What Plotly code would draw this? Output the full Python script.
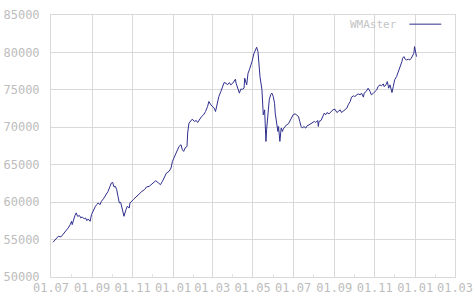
import plotly.graph_objects as go

series_name = "WMAster"

dates = [
    "2006-07-04", "2006-07-09", "2006-07-12", "2006-07-16", "2006-07-19", "2006-07-22", "2006-07-25", "2006-07-27",
    "2006-07-30", "2006-08-01", "2006-08-02", "2006-08-04", "2006-08-06", "2006-08-08", "2006-08-10", "2006-08-13",
    "2006-08-15", "2006-08-17", "2006-08-20", "2006-08-22", "2006-08-24", "2006-08-26", "2006-08-29", "2006-08-31",
    "2006-09-03", "2006-09-06", "2006-09-08", "2006-09-10", "2006-09-13", "2006-09-15", "2006-09-18", "2006-09-20",
    "2006-09-23", "2006-09-25", "2006-09-28", "2006-09-30", "2006-10-02", "2006-10-04", "2006-10-06", "2006-10-08",
    "2006-10-10", "2006-10-12", "2006-10-14", "2006-10-17", "2006-10-19", "2006-10-22", "2006-10-24", "2006-10-27",
    "2006-10-28", "2006-11-02", "2006-11-07", "2006-11-10", "2006-11-12", "2006-11-15", "2006-11-19", "2006-11-22",
    "2006-11-26", "2006-11-30", "2006-12-04", "2006-12-06", "2006-12-10", "2006-12-13", "2006-12-16", "2006-12-19",
    "2006-12-22", "2006-12-26", "2006-12-29", "2006-12-31", "2007-01-03", "2007-01-05", "2007-01-08", "2007-01-10",
    "2007-01-13", "2007-01-15", "2007-01-17", "2007-01-19", "2007-01-22", "2007-01-23", "2007-01-25", "2007-01-28",
    "2007-01-30", "2007-02-02", "2007-02-05", "2007-02-07", "2007-02-10", "2007-02-13", "2007-02-16", "2007-02-19",
    "2007-02-22", "2007-02-24", "2007-02-27", "2007-03-01", "2007-03-04", "2007-03-06", "2007-03-09", "2007-03-11",
    "2007-03-14", "2007-03-17", "2007-03-19", "2007-03-22", "2007-03-24", "2007-03-27", "2007-03-29", "2007-04-01",
    "2007-04-03", "2007-04-05", "2007-04-06", "2007-04-09", "2007-04-11", "2007-04-13", "2007-04-16", "2007-04-18",
    "2007-04-19", "2007-04-22", "2007-04-24", "2007-04-26", "2007-04-28", "2007-04-30", "2007-05-03", "2007-05-06",
    "2007-05-07", "2007-05-09", "2007-05-10", "2007-05-12", "2007-05-15", "2007-05-16", "2007-05-17", "2007-05-19",
    "2007-05-20", "2007-05-21", "2007-05-22", "2007-05-24", "2007-05-26", "2007-05-28", "2007-05-30", "2007-06-01",
    "2007-06-03", "2007-06-04", "2007-06-06", "2007-06-08", "2007-06-09", "2007-06-11", "2007-06-13", "2007-06-15",
    "2007-06-16", "2007-06-19", "2007-06-21", "2007-06-24", "2007-06-26", "2007-06-29", "2007-07-01", "2007-07-04",
    "2007-07-06", "2007-07-09", "2007-07-11", "2007-07-13", "2007-07-15", "2007-07-17", "2007-07-20", "2007-07-22",
    "2007-07-25", "2007-07-27", "2007-07-30", "2007-08-02", "2007-08-04", "2007-08-07", "2007-08-08", "2007-08-09",
    "2007-08-12", "2007-08-15", "2007-08-17", "2007-08-19", "2007-08-21", "2007-08-24", "2007-08-27", "2007-08-30",
    "2007-09-02", "2007-09-05", "2007-09-07", "2007-09-10", "2007-09-12", "2007-09-15", "2007-09-17", "2007-09-20",
    "2007-09-22", "2007-09-25", "2007-09-27", "2007-09-30", "2007-10-02", "2007-10-05", "2007-10-07", "2007-10-10",
    "2007-10-12", "2007-10-15", "2007-10-16", "2007-10-19", "2007-10-21", "2007-10-22", "2007-10-25", "2007-10-27",
    "2007-10-30", "2007-11-01", "2007-11-04", "2007-11-06", "2007-11-09", "2007-11-11", "2007-11-14", "2007-11-15",
    "2007-11-18", "2007-11-20", "2007-11-22", "2007-11-24", "2007-11-26", "2007-11-27", "2007-11-29", "2007-12-01",
    "2007-12-04", "2007-12-07", "2007-12-09", "2007-12-12", "2007-12-13", "2007-12-15", "2007-12-17", "2007-12-19",
    "2007-12-22", "2007-12-24", "2007-12-26", "2007-12-28", "2007-12-30", "2007-12-31", "2008-01-01", "2008-01-02",
    "2008-01-03",
]

values = [
    54640, 55220, 55440, 55360, 55670, 55970, 56200, 56560,
    57000, 57440, 57000, 57670, 58200, 58560, 58110, 58200,
    57890, 58030, 57760, 57890, 57530, 57760, 57440, 58330,
    59000, 59440, 59670, 59890, 59670, 60110, 60440, 60700,
    61000, 61440, 62110, 62560, 62640, 62030, 62110, 61670,
    60780, 59890, 59970, 59000, 58110, 59000, 59440, 59220,
    59890, 60330, 60780, 61000, 61220, 61440, 61670, 62030,
    62110, 62470, 62780, 62870, 62560, 62330, 62780, 63440,
    63890, 64110, 64560, 65440, 66110, 66560, 67000, 67440,
    67670, 67000, 66780, 67220, 67440, 69220, 70560, 70910,
    71090, 70780, 70910, 70640, 71090, 71440, 71670, 72110,
    72780, 73440, 73000, 72780, 72560, 72110, 73220, 74110,
    74780, 75440, 75970, 75890, 75670, 75970, 75670, 75890,
    76110, 76420, 75890, 75220, 74560, 75090, 75090, 75220,
    76560, 75670, 77220, 77670, 78110, 78780, 79890, 80560,
    80690, 80110, 78560, 76780, 75000, 73220, 71670, 72330,
    70110, 68110, 69670, 71670, 73670, 74330, 74560, 74110,
    73220, 71890, 70330, 69440, 70110, 68110, 69890, 69440,
    69760, 70110, 70330, 70470, 70780, 71220, 71670, 71800,
    71670, 71440, 70780, 70110, 69890, 70110, 69890, 70200,
    70330, 70470, 70560, 70780, 70640, 70910, 70110, 70780,
    70910, 71670, 71890, 71670, 71970, 71800, 72110, 72330,
    72420, 71970, 72110, 72330, 71970, 72240, 72330, 72560,
    73000, 73440, 74030, 74200, 74110, 74330, 74470, 74330,
    74560, 74030, 74560, 74780, 75090, 75220, 74780, 74330,
    74560, 74780, 75000, 75440, 75670, 75530, 75800, 75440,
    75670, 76110, 75220, 75670, 75000, 74640, 75440, 76330,
    76780, 77440, 78110, 78780, 79220, 79440, 79090, 79000,
    79090, 79000, 79220, 79670, 79890, 80780, 80330, 79670,
    79440,
]

y_ticks = [50000, 55000, 60000, 65000, 70000, 75000, 80000, 85000]
x_range = ["2006-07-01", "2008-03-01"]

label_font = dict(family="DejaVu Sans Mono", size=12, color="#bdbdbd")
grid_color = "#d9d9d9"
line_color = "#2f2f8f"

fig = go.Figure()
fig.add_trace(go.Scatter(
    x=dates, y=values, mode="lines", name=series_name,
    line=dict(color=line_color, width=1), showlegend=False,
))

fig.update_layout(
    width=475, height=302,
    margin=dict(l=51, r=20, t=15, b=25, autoexpand=False),
    paper_bgcolor="white", plot_bgcolor="white",
    font=label_font,
    xaxis=dict(
        type="date", range=x_range, dtick="M2", tick0="2006-07-01",
        tickformat="%d.%m", showgrid=True, gridcolor=grid_color, gridwidth=1,
        showline=True, linecolor=grid_color, mirror=True, automargin=False,
        ticks="", tickfont=label_font, zeroline=False,
        minor=dict(dtick="M1", ticks="inside", ticklen=3, tickcolor="#e4e4e4", showgrid=False),
    ),
    yaxis=dict(
        range=[50000, 85000], tickvals=y_ticks, ticktext=[str(v) for v in y_ticks],
        showgrid=True, gridcolor=grid_color, gridwidth=1,
        showline=True, linecolor=grid_color, mirror=True, automargin=False,
        ticks="", ticklabelstandoff=8, tickfont=label_font, zeroline=False,
    ),
    annotations=[dict(
        text=series_name, xref="paper", yref="paper", x=0.862, y=0.962,
        xanchor="right", yanchor="middle", showarrow=False,
        font=dict(family="DejaVu Sans Mono", size=11, color="#c4c4c4"),
    )],
    shapes=[dict(
        type="line", xref="paper", yref="paper", x0=0.887, x1=0.966, y0=0.965, y1=0.965,
        line=dict(color=line_color, width=1),
    )],
)

fig.write_html("out.html")
